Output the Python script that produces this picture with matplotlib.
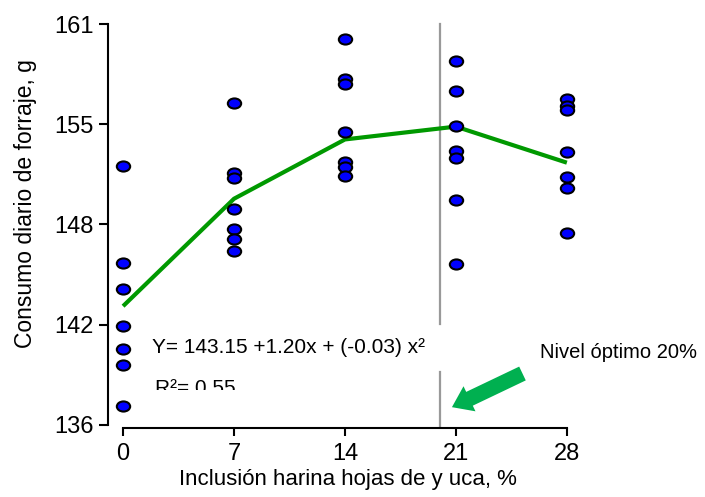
import numpy as np
import matplotlib
matplotlib.use('Agg')
import matplotlib.pyplot as plt
from matplotlib.path import Path
from matplotlib.transforms import Affine2D, Bbox, TransformedBbox

plt.rcParams['font.family'] = ['Liberation Sans', 'DejaVu Sans']

# inclusion levels (%) and daily forage intake (g)
levels = [0, 7, 14, 21, 28]
intake = {
    0: [152.15, 146.1, 144.5, 142.15, 140.7, 139.7, 137.15],
    7: [156.1, 151.7, 151.4, 149.45, 148.2, 147.6, 146.85],
    14: [160.05, 157.6, 157.25, 154.25, 152.4, 152.05, 151.55],
    21: [158.7, 156.85, 154.65, 153.05, 152.65, 150.05, 146.0],
    28: [156.35, 155.9, 155.65, 153.0, 151.45, 150.8, 147.95],
}
trend = [143.4, 150.1, 153.8, 154.6, 152.35]
optimum = 20
yticks = np.linspace(136, 161, 5)
ytick_labels = ['136', '142', '148', '155', '161']

fig = plt.figure(figsize=(7.05, 4.97), dpi=100)
ax = fig.add_axes([108 / 705, 69 / 497, 592 / 705, 408 / 497])

# optimum marker line, broken where the equation sits
ax.axvline(optimum, ymin=0, ymax=0.137, color='#999999', lw=1.6, zorder=1)
ax.axvline(optimum, ymin=0.255, ymax=0.99, color='#999999', lw=1.6, zorder=1)

ax.plot(levels, trend, color='#009900', lw=3, zorder=2, solid_capstyle='butt')

ell = Path.unit_circle().transformed(Affine2D().scale(1.0, 0.76))
for lv in levels:
    ax.plot([lv] * len(intake[lv]), intake[lv], ls='none', marker=ell,
            ms=9.6, mfc='#0000ff', mec='black', mew=1.5, zorder=3)

ax.set_xlim(-0.95, 36.4)
ax.set_ylim(135.8, 161.25)
ax.set_xticks(levels)
ax.set_yticks(yticks)
ax.set_yticklabels(ytick_labels)
ax.tick_params(axis='both', labelsize=17, width=1.5, colors='black')
ax.tick_params(axis='y', length=6.5, pad=4)
ax.tick_params(axis='x', length=6, pad=5)

for s in ['top', 'right']:
    ax.spines[s].set_visible(False)
ax.spines['left'].set_bounds(136, 161)
ax.spines['bottom'].set_bounds(0, 28)
for s in ['left', 'bottom']:
    ax.spines[s].set_linewidth(1.5)

ax.set_xlabel('Inclusión harina hojas de y uca, %', fontsize=16)
ax.xaxis.set_label_coords(0.405, -0.1)
ax.set_ylabel('Consumo diario de forraje, g', fontsize=16.5)
ax.yaxis.set_label_coords(-0.12, 0.55)

ax.text(1.83, 140.8, 'Y= 143.15 +1.20x + (-0.03) x²', fontsize=15, va='center')
r2 = ax.text(2.0, 138.85, 'R²= 0.55', fontsize=15, va='top')
r2.set_clip_on(True)
r2.set_clip_box(TransformedBbox(Bbox([[0, 0.093], [1, 1]]), ax.transAxes))

ax.text(26.3, 140.5, 'Nivel óptimo 20%', fontsize=14.5, va='center', clip_on=False)
ax.annotate('', xy=(20.75, 137.1), xytext=(25.2, 139.2),
            arrowprops=dict(arrowstyle='simple,head_length=0.7,head_width=1.0,tail_width=0.55',
                            color='#00b050', mutation_scale=20, lw=0,
                            shrinkA=0, shrinkB=0))

fig.savefig('out.png', dpi=100)
